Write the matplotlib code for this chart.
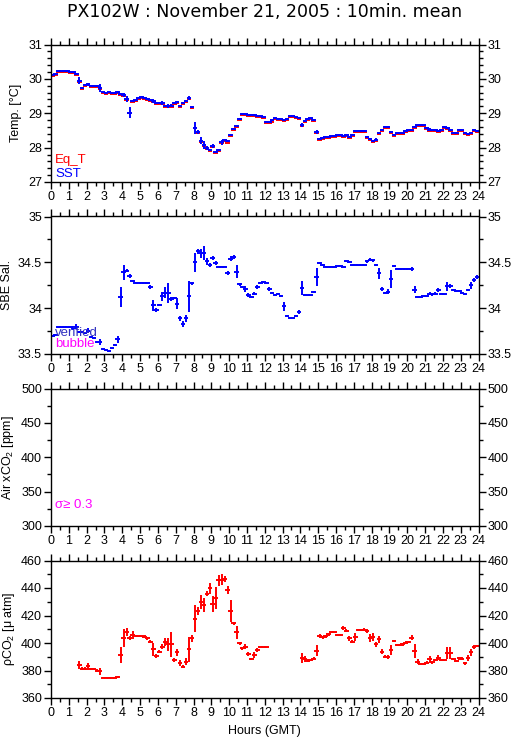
import numpy as np
import matplotlib
matplotlib.use("Agg")
import matplotlib.pyplot as plt
from matplotlib.ticker import MultipleLocator, FuncFormatter

plt.rcParams['font.family'] = ['Liberation Sans', 'DejaVu Sans']
plt.rcParams['mathtext.fontset'] = 'custom'
plt.rcParams['mathtext.rm'] = 'Liberation Sans'
plt.rcParams['mathtext.it'] = 'Liberation Sans:italic'

nan = np.nan
bin_minutes = 10
hours = (np.arange(144) + 0.5) * bin_minutes / 60.0

# ---- Temperature panel ----
sst = [30.10, 30.13, 30.22, 30.22, 30.23, 30.23,
       30.20, 30.19, 30.15, 29.95, 29.74, 29.83,
       29.84, 29.80, 29.79, 29.79, 29.74, 29.61,
       29.60, 29.61, 29.60, 29.60, 29.62, 29.57,
       29.53, 29.42, 29.02, 29.37, 29.38, 29.45,
       29.47, 29.45, 29.41, 29.38, 29.35, 29.30,
       29.30, 29.30, 29.22, 29.22, 29.22, 29.30,
       29.33, 29.20, 29.30, 29.35, 29.44, 29.17,
       28.58, 28.45, 28.20, 28.07, 28.00, 27.93,
       28.05, 27.87, 27.93, 28.16, 28.22, 28.18,
       28.36, 28.55, 28.62, 28.83, 28.98, 28.97,
       28.96, 28.96, 28.96, 28.93, 28.91, 28.88,
       28.76, 28.74, 28.79, 28.85, 28.83, 28.82,
       28.81, 28.84, 28.91, 28.91, 28.88, 28.87,
       28.65, 28.77, 28.83, 28.86, 28.80, 28.45,
       28.26, 28.29, 28.31, 28.32, 28.33, 28.35,
       28.36, 28.36, 28.33, 28.36, 28.31, 28.38,
       28.48, 28.48, 28.48, 28.48, 28.31, 28.26,
       28.19, 28.23, 28.42, 28.52, 28.60, 28.60,
       28.46, 28.38, 28.42, 28.42, 28.42, 28.48,
       28.50, 28.52, 28.60, 28.65, 28.65, 28.65,
       28.58, 28.52, 28.52, 28.52, 28.48, 28.52,
       28.60, 28.58, 28.50, 28.44, 28.44, 28.52,
       28.50, 28.44, 28.40, 28.44, 28.50, 28.48]
sst_std = [0.02, 0.02, 0.02, 0.02, 0.02, 0.02,
           0.02, 0.02, 0.03, 0.10, 0.02, 0.03,
           0.04, 0.02, 0.02, 0.02, 0.12, 0.02,
           0.02, 0.02, 0.02, 0.02, 0.02, 0.03,
           0.07, 0.08, 0.17, 0.02, 0.02, 0.02,
           0.02, 0.02, 0.03, 0.02, 0.05, 0.02,
           0.02, 0.06, 0.02, 0.06, 0.05, 0.04,
           0.04, 0.02, 0.02, 0.03, 0.06, 0.02,
           0.18, 0.05, 0.10, 0.12, 0.06, 0.03,
           0.07, 0.04, 0.03, 0.07, 0.03, 0.02,
           0.02, 0.02, 0.02, 0.02, 0.04, 0.02,
           0.02, 0.02, 0.02, 0.02, 0.02, 0.02,
           0.02, 0.02, 0.02, 0.02, 0.02, 0.02,
           0.02, 0.02, 0.02, 0.02, 0.02, 0.02,
           0.06, 0.02, 0.02, 0.02, 0.03, 0.06,
           0.02, 0.02, 0.02, 0.02, 0.02, 0.02,
           0.02, 0.02, 0.02, 0.02, 0.02, 0.02,
           0.02, 0.02, 0.02, 0.02, 0.02, 0.02,
           0.02, 0.05, 0.02, 0.02, 0.02, 0.02,
           0.02, 0.02, 0.02, 0.02, 0.02, 0.02,
           0.02, 0.02, 0.02, 0.02, 0.02, 0.02,
           0.02, 0.04, 0.02, 0.02, 0.02, 0.02,
           0.02, 0.03, 0.02, 0.02, 0.02, 0.02,
           0.02, 0.02, 0.04, 0.02, 0.02, 0.02]
eq_t = [30.07, 30.10, 30.19, 30.19, 30.20, 30.20,
        30.17, 30.16, 30.12, 29.92, 29.71, 29.80,
        29.81, 29.77, 29.76, 29.76, 29.71, 29.58,
        29.57, 29.58, 29.57, 29.57, 29.59, 29.54,
        29.50, 29.39, 29.00, 29.34, 29.35, 29.42,
        29.44, 29.42, 29.38, 29.35, 29.32, 29.27,
        29.27, 29.27, 29.19, 29.19, 29.19, 29.27,
        29.30, 29.17, 29.27, 29.32, 29.41, 29.14,
        28.56, 28.42, 28.17, 28.04, 27.97, 27.90,
        28.02, 27.84, 27.90, 28.13, 28.19, 28.14,
        28.33, 28.52, 28.59, 28.80, 28.95, 28.94,
        28.93, 28.93, 28.93, 28.90, 28.88, 28.85,
        28.73, 28.71, 28.76, 28.82, 28.80, 28.79,
        28.78, 28.81, 28.88, 28.88, 28.85, 28.84,
        28.62, 28.74, 28.80, 28.83, 28.77, 28.43,
        28.23, 28.26, 28.28, 28.29, 28.30, 28.32,
        28.33, 28.33, 28.30, 28.33, 28.28, 28.35,
        28.45, 28.45, 28.45, 28.45, 28.28, 28.23,
        28.16, 28.20, 28.39, 28.49, 28.57, 28.57,
        28.43, 28.35, 28.39, 28.39, 28.39, 28.45,
        28.47, 28.49, 28.57, 28.62, 28.62, 28.62,
        28.55, 28.49, 28.49, 28.49, 28.45, 28.49,
        28.57, 28.55, 28.47, 28.41, 28.41, 28.49,
        28.47, 28.41, 28.37, 28.41, 28.47, 28.45]

# ---- Salinity panel ----
sal = [33.70, 33.71, 33.79, 33.79, 33.79, 33.79,
       33.79, 33.78, 33.80, 33.74, 33.74, 33.73,
       33.755, 33.69, 33.68, 33.63, 33.63, 33.55,
       33.545, 33.53, 33.56, 33.60, 33.66, 34.12,
       34.39, 34.41, 34.35, 34.30, 34.28, 34.28,
       34.28, 34.28, 34.27, 34.23, 34.03, 33.98,
       34.04, 34.13, 34.17, 34.17, 34.10, 34.11,
       34.05, 33.89, 33.83, 33.89, 34.13, 34.27,
       34.50, 34.62, 34.60, 34.60, 34.51, 34.47,
       34.55, 34.49, 34.45, 34.45, 34.45, 34.38,
       34.54, 34.56, 34.40, 34.26, 34.23, 34.21,
       34.14, 34.12, 34.16, 34.23, 34.28, 34.29,
       34.28, 34.21, 34.17, 34.14, 34.16, 34.13,
       34.02, 33.92, 33.89, 33.89, 33.92, 33.96,
       34.22, 34.14, 34.14, 34.14, 34.18, 34.34,
       34.49, 34.47, 34.45, 34.45, 34.45, 34.45,
       34.46, 34.46, 34.45, 34.51, 34.50, 34.47,
       34.47, 34.47, 34.47, 34.47, 34.51, 34.53,
       34.52, 34.47, 34.38, 34.21, 34.17, 34.18,
       34.32, 34.46, 34.43, 34.43, 34.43, 34.43,
       34.43, 34.43, 34.20, 34.12, 34.12, 34.13,
       34.13, 34.16, 34.15, 34.16, 34.20, 34.16,
       34.15, 34.24, 34.24, 34.20, 34.19, 34.19,
       34.17, 34.15, 34.20, 34.25, 34.31, 34.34]
sal_std = [0.01, 0.01, 0.01, 0.005, 0.005, 0.005,
           0.01, 0.02, 0.03, 0.01, 0.01, 0.01,
           0.03, 0.01, 0.005, 0.01, 0.03, 0.01,
           0.005, 0.005, 0.01, 0.01, 0.04, 0.11,
           0.08, 0.02, 0.02, 0.01, 0.005, 0.005,
           0.005, 0.005, 0.005, 0.02, 0.06, 0.02,
           0.01, 0.05, 0.06, 0.11, 0.02, 0.01,
           0.06, 0.03, 0.03, 0.04, 0.17, 0.02,
           0.10, 0.03, 0.05, 0.08, 0.04, 0.02,
           0.02, 0.02, 0.005, 0.005, 0.005, 0.02,
           0.03, 0.02, 0.07, 0.02, 0.01, 0.03,
           0.02, 0.01, 0.02, 0.02, 0.01, 0.01,
           0.01, 0.02, 0.01, 0.01, 0.01, 0.01,
           0.05, 0.01, 0.005, 0.005, 0.01, 0.02,
           0.08, 0.01, 0.005, 0.005, 0.01, 0.10,
           0.01, 0.01, 0.005, 0.005, 0.005, 0.005,
           0.005, 0.005, 0.005, 0.01, 0.01, 0.005,
           0.005, 0.005, 0.005, 0.005, 0.02, 0.02,
           0.02, 0.01, 0.06, 0.02, 0.01, 0.03,
           0.10, 0.01, 0.005, 0.005, 0.005, 0.005,
           0.005, 0.02, 0.04, 0.01, 0.005, 0.005,
           0.005, 0.02, 0.02, 0.02, 0.02, 0.01,
           0.01, 0.05, 0.02, 0.01, 0.01, 0.01,
           0.01, 0.01, 0.01, 0.04, 0.02, 0.02]

# ---- pCO2 panel ----
pco2 = [nan, nan, nan, nan, nan, nan,
        nan, nan, nan, 384.1, 381.2, 381.2,
        383.0, 381.2, 381.2, 380.0, 379.3, 374.7,
        374.7, 374.7, 374.7, 374.7, 375.2, 391.3,
        403.4, 408.2, 403.4, 405.8, 404.8, 404.8,
        404.8, 404.5, 403.4, 401.0, 395.4, 390.8,
        393.7, 397.3, 401.0, 399.0, 399.0, 387.7,
        393.3, 385.3, 382.9, 386.5, 395.4, 403.4,
        417.8, 423.4, 429.9, 427.5, 436.0, 440.0,
        428.2, 433.0, 445.5, 446.0, 446.5, 438.3,
        423.1, 414.2, 407.7, 399.8, 396.1, 397.3,
        391.8, 388.4, 391.3, 394.9, 396.9, 396.9,
        396.9, nan, nan, nan, nan, nan,
        nan, nan, nan, nan, nan, nan,
        389.0, 388.4, 387.2, 387.5, 388.6, 394.2,
        405.3, 404.1, 405.0, 406.3, 407.7, 407.7,
        405.8, 405.8, 411.1, 409.0, 403.4, 401.0,
        404.6, 409.4, 409.4, 409.8, 408.7, 403.4,
        404.6, 399.0, 402.7, 393.7, 390.1, 389.6,
        394.9, 401.4, 398.6, 398.6, 399.0, 400.2,
        400.7, 403.9, 394.2, 386.5, 384.6, 384.8,
        385.8, 388.2, 386.0, 387.7, 389.4, 387.4,
        387.4, 392.6, 392.6, 388.4, 387.2, 389.0,
        388.6, 385.3, 389.0, 393.3, 396.9, 397.8]
pco2_std = [0, 0, 0, 0, 0, 0,
            0, 0, 0, 3.0, 1.0, 1.0,
            2.5, 0.5, 0.5, 1.0, 2.5, 0.3,
            0.3, 0.3, 0.3, 0.3, 1.0, 6.0,
            6.5, 3.0, 1.5, 3.0, 0.5, 0.5,
            0.5, 1.0, 1.0, 1.0, 4.5, 1.5,
            1.0, 2.0, 3.0, 5.0, 9.0, 1.5,
            2.5, 2.0, 1.0, 2.5, 9.0, 2.5,
            10.0, 3.0, 5.0, 5.0, 2.0, 4.0,
            6.0, 8.0, 4.0, 4.0, 2.0, 3.0,
            8.0, 1.0, 4.5, 1.0, 1.0, 2.0,
            1.5, 1.0, 2.0, 1.5, 0.5, 0.5,
            0.5, 0, 0, 0, 0, 0,
            0, 0, 0, 0, 0, 0,
            3.5, 2.0, 1.0, 0.5, 1.0, 4.0,
            1.5, 1.0, 1.0, 1.0, 0.5, 0.5,
            0.5, 0.5, 1.5, 1.0, 2.0, 1.0,
            3.0, 1.0, 0.5, 1.0, 1.5, 3.0,
            3.0, 2.0, 2.5, 2.0, 1.0, 1.5,
            3.5, 1.0, 0.5, 0.5, 1.0, 1.0,
            1.0, 2.0, 5.0, 2.0, 0.5, 0.5,
            1.0, 2.5, 1.0, 1.0, 2.0, 0.5,
            0.5, 4.5, 4.5, 1.0, 0.5, 1.0,
            1.0, 1.0, 2.0, 2.5, 1.5, 1.0]

title = "PX102W : November 21, 2005 : 10min. mean"
xlabel = "Hours (GMT)"

fig = plt.figure(figsize=(5.15, 7.39), dpi=100)
L, W, H = 51/515, 427.5/515, 137.5/739
bottoms = [1-182/739, 1-354/739, 1-526/739, 1-698/739]
axes = [fig.add_axes([L, b, W, H]) for b in bottoms]

half_bin = 0.13
lw = 1.4
fmt_g = FuncFormatter(lambda v, p: '%g' % v)

def setup(ax, ylim, major, minor, ylabel, lx):
    ax.set_xlim(0, 24)
    ax.set_ylim(*ylim)
    ax.xaxis.set_major_locator(MultipleLocator(1))
    ax.xaxis.set_minor_locator(MultipleLocator(0.5))
    ax.yaxis.set_major_locator(MultipleLocator(major))
    ax.yaxis.set_minor_locator(MultipleLocator(minor))
    ax.yaxis.set_major_formatter(fmt_g)
    ax.tick_params(which='both', direction='out', top=True, right=True,
                   labelright=True, labelsize=9, width=1, pad=1.5)
    ax.tick_params(which='major', length=5)
    ax.tick_params(which='minor', length=3)
    for s in ax.spines.values():
        s.set_linewidth(1)
    ax.set_ylabel(ylabel, fontsize=9)
    ax.yaxis.set_label_coords(lx, 0.5)

def draw(ax, y, std, color):
    y = np.array(y, dtype=float)
    ax.errorbar(hours, y, xerr=half_bin, yerr=std, fmt='none', ecolor=color,
                elinewidth=lw, capsize=0)

ax1, ax2, ax3, ax4 = axes
draw(ax1, eq_t, 0.01, '#ff0000')
draw(ax1, sst, sst_std, '#0000ff')
setup(ax1, (27, 31), 1, 0.2, "Temp. [°C]", -0.068)
ax1.text(0.01, 0.16, "Eq_T", color='#ff0000', fontsize=9.5, transform=ax1.transAxes, va='center')
ax1.text(0.01, 0.055, "SST", color='#0000ff', fontsize=9.5, transform=ax1.transAxes, va='center')

draw(ax2, sal, sal_std, '#0000ff')
setup(ax2, (33.5, 35), 0.5, 0.25, "SBE Sal.", -0.09)
ax2.text(0.01, 0.155, "verified", color='#3030c0', fontsize=9.5, transform=ax2.transAxes, va='center')
ax2.text(0.01, 0.07, "bubble", color='#ff00ff', fontsize=9.5, transform=ax2.transAxes, va='center')

setup(ax3, (300, 500), 50, 25, "Air xCO$_2$ [ppm]", -0.082)
ax3.text(0.01, 0.15, "σ≥ 0.3", color='#ff00ff', fontsize=9.5, transform=ax3.transAxes, va='center')

draw(ax4, pco2, pco2_std, '#ff0000')
setup(ax4, (360, 460), 20, 10, "ρCO$_2$ [μ atm]", -0.08)
ax4.set_xlabel(xlabel, fontsize=9, labelpad=4)

fig.text(0.5143, 0.984, title, ha='center', va='center', fontsize=12.5,
         family=['DejaVu Sans'])

fig.savefig("out.png", dpi=100)
